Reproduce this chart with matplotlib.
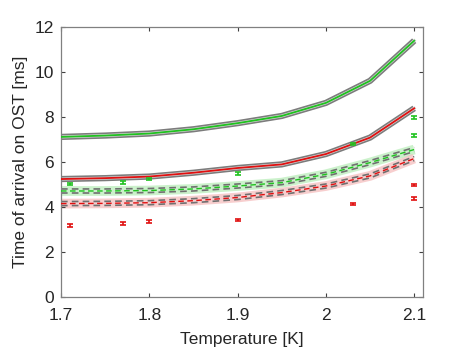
import matplotlib
matplotlib.use("Agg")
import matplotlib.pyplot as plt
import numpy as np

plt.rcParams['font.family'] = ['Liberation Sans', 'DejaVu Sans']

temps = [1.70, 1.75, 1.80, 1.85, 1.90, 1.95, 2.00, 2.05, 2.10]
green_solid = [7.11, 7.17, 7.26, 7.45, 7.72, 8.04, 8.62, 9.60, 11.38]
red_solid = [5.24, 5.28, 5.35, 5.52, 5.73, 5.89, 6.35, 7.08, 8.38]
green_dash = [4.71, 4.71, 4.73, 4.80, 4.93, 5.08, 5.45, 5.97, 6.55]
red_dash = [4.15, 4.16, 4.19, 4.28, 4.42, 4.64, 4.93, 5.38, 6.15]

green_pts_x = [1.71, 1.77, 1.80, 1.90, 2.031, 2.10, 2.10]
green_pts_y = [5.02, 5.08, 5.24, 5.48, 6.80, 7.97, 7.18]
red_pts_x = [1.71, 1.77, 1.80, 1.90, 2.031, 2.10, 2.10]
red_pts_y = [3.18, 3.27, 3.34, 3.42, 4.13, 4.97, 4.38]
pt_err = 0.06

xticks = [1.7, 1.8, 1.9, 2.0, 2.1]
xticklabels = ["1.7", "1.8", "1.9", "2", "2.1"]
yticks = [0, 2, 4, 6, 8, 10, 12]

fig = plt.figure(figsize=(4.69, 3.52), dpi=100)
ax = fig.add_axes([0.130, 0.156, 0.772, 0.768])

GREEN = '#1fc21f'
RED = '#e01010'
t = np.array(temps)

def solid_band(y, col):
    y = np.array(y)
    ax.plot(t, y, color='#505050', lw=4.5, alpha=0.75, solid_capstyle='butt', zorder=2)
    ax.plot(t, y, color='#d8d8d8', lw=2.2, zorder=2)
    ax.plot(t, y, color=col, lw=1.3, zorder=3)

def dashed_band(y, col, light):
    y = np.array(y)
    ax.plot(t, y, color=light, lw=7, alpha=0.7, solid_capstyle='butt', zorder=1)
    ax.plot(t, y + 0.09, color='#707070', lw=1.2, ls=(0, (4, 2.5)), zorder=2)
    ax.plot(t, y - 0.09, color='#707070', lw=1.2, ls=(0, (4, 2.5)), zorder=2)
    ax.plot(t, y, color=col, lw=1.0, ls=(0, (4, 2.5)), zorder=3)

solid_band(green_solid, GREEN)
solid_band(red_solid, RED)
dashed_band(green_dash, GREEN, '#b5ecb5')
dashed_band(red_dash, RED, '#f5baba')

ax.errorbar(green_pts_x, green_pts_y, yerr=pt_err, fmt='none', ecolor=GREEN,
            elinewidth=1.2, capsize=2.5, capthick=1.2, zorder=4)
ax.errorbar(red_pts_x, red_pts_y, yerr=pt_err, fmt='none', ecolor=RED,
            elinewidth=1.2, capsize=2.5, capthick=1.2, zorder=4)

ax.set_xlim(1.7, 2.11)
ax.set_ylim(0, 12)
ax.set_xticks(xticks)
ax.set_xticklabels(xticklabels)
ax.set_yticks(yticks)
ax.tick_params(direction='in', top=True, right=True, labelsize=12.5,
               color='#404040', length=3, width=0.8, labelcolor='#262626')
ax.tick_params(axis='x', pad=8)
ax.tick_params(axis='y', pad=5)
for s in ax.spines.values():
    s.set_color('#808080')
    s.set_linewidth(0.9)
ax.set_xlabel("Temperature [K]", fontsize=12.5, color='#262626', labelpad=6)
ax.set_ylabel("Time of arrival on OST [ms]", fontsize=12.5, color='#262626', labelpad=5)

fig.savefig("out.png", dpi=100)
